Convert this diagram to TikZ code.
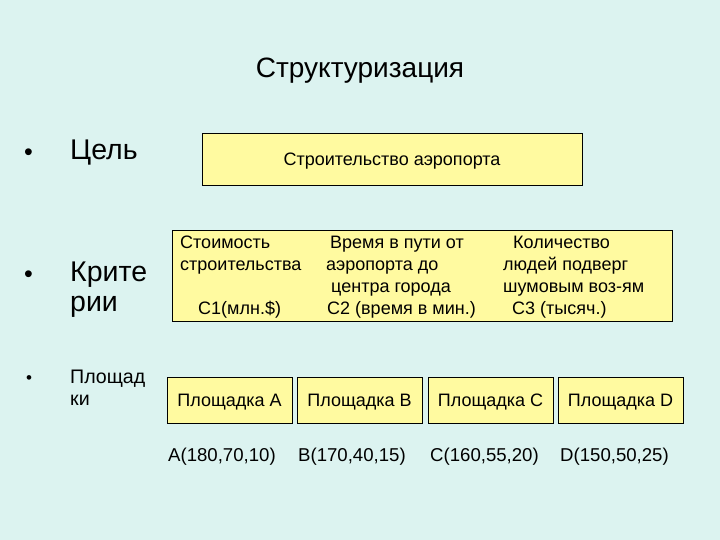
\documentclass[tikz,border=0pt]{standalone}
\usepackage{fontspec}
\setmainfont{Liberation Sans}
\definecolor{bgc}{RGB}{220,243,240}
\definecolor{boxc}{RGB}{255,250,160}
\tikzset{
  box/.style={draw=black, line width=0.8pt, fill=boxc, inner sep=0pt},
  lbl/.style={anchor=base west, inner sep=0pt, font=\fontsize{18}{22}\selectfont},
  site/.style={box, minimum width=125pt, minimum height=46pt, text height=12.9pt, text depth=0pt, font=\fontsize{18}{22}\selectfont},
  coordlbl/.style={anchor=base west, inner sep=0pt, font=\fontsize{18.6}{22}\selectfont},
  bigtxt/.style={anchor=base west, inner sep=0pt, font=\fontsize{28.5}{30}\selectfont},
  smalltxt/.style={anchor=base west, inner sep=0pt, font=\fontsize{19.6}{22}\selectfont},
  bigdot/.style={anchor=base west, inner sep=0pt, font=\fontsize{25}{26}\selectfont},
  smalldot/.style={anchor=base west, inner sep=0pt, font=\fontsize{17}{18}\selectfont}
}
\begin{document}
\begin{tikzpicture}[x=1pt,y=-1pt]
\fill[bgc] (0,0) rectangle (720,540);
\useasboundingbox (0,0) rectangle (720,540);
\node[anchor=base, inner sep=0pt, font=\fontsize{28}{30}\selectfont] (title) at (360,78) {Структуризация};
% bullets
\node[bigdot] (b1) at (24,161) {•};
\node[bigtxt] (goal) at (70,160) {Цель};
\node[bigdot] (b2) at (24,282) {•};
\node[bigtxt] (crit1) at (70,281) {Крите};
\node[bigtxt] (crit2) at (70,311) {рии};
\node[smalldot] (b3) at (26,383) {•};
\node[smalltxt] (sites1) at (70,383) {Площад};
\node[smalltxt] (sites2) at (70,405) {ки};
% goal box
\node[box, minimum width=380pt, minimum height=52pt, text height=12.9pt, text depth=0pt, font=\fontsize{18}{22}\selectfont] (g) at (392,159.5) {Строительство аэропорта};
% criteria box
\node[box, minimum width=499.5pt, minimum height=91pt] (c) at (422.25,275.5) {};
\node[lbl] (c1a) at (180,248.5) {Стоимость};
\node[lbl] (c1b) at (180,270.5) {строительства};
\node[lbl] (c1d) at (198,314.5) {С1(млн.\$)};
\node[lbl] (c2a) at (330,248.5) {Время в пути от};
\node[lbl] (c2b) at (326,270.5) {аэропорта до};
\node[lbl] (c2c) at (331,292.5) {центра города};
\node[lbl] (c2d) at (327,314.5) {С2 (время в мин.)};
\node[lbl] (c3a) at (513,248.5) {Количество};
\node[lbl] (c3b) at (503,270.5) {людей подверг};
\node[lbl] (c3c) at (503,292.5) {шумовым воз-ям};
\node[lbl] (c3d) at (512,314.5) {С3 (тысяч.)};
% sites
\node[site] (sA) at (229.5,400) {Площадка A};
\node[site] (sB) at (359.5,400) {Площадка B};
\node[site] (sC) at (490.5,400) {Площадка C};
\node[site] (sD) at (620.5,400) {Площадка D};
\node[coordlbl] (vA) at (168,461.5) {A(180,70,10)};
\node[coordlbl] (vB) at (298,461.5) {B(170,40,15)};
\node[coordlbl] (vC) at (430,461.5) {C(160,55,20)};
\node[coordlbl] (vD) at (560,461.5) {D(150,50,25)};
\end{tikzpicture}
\end{document}
